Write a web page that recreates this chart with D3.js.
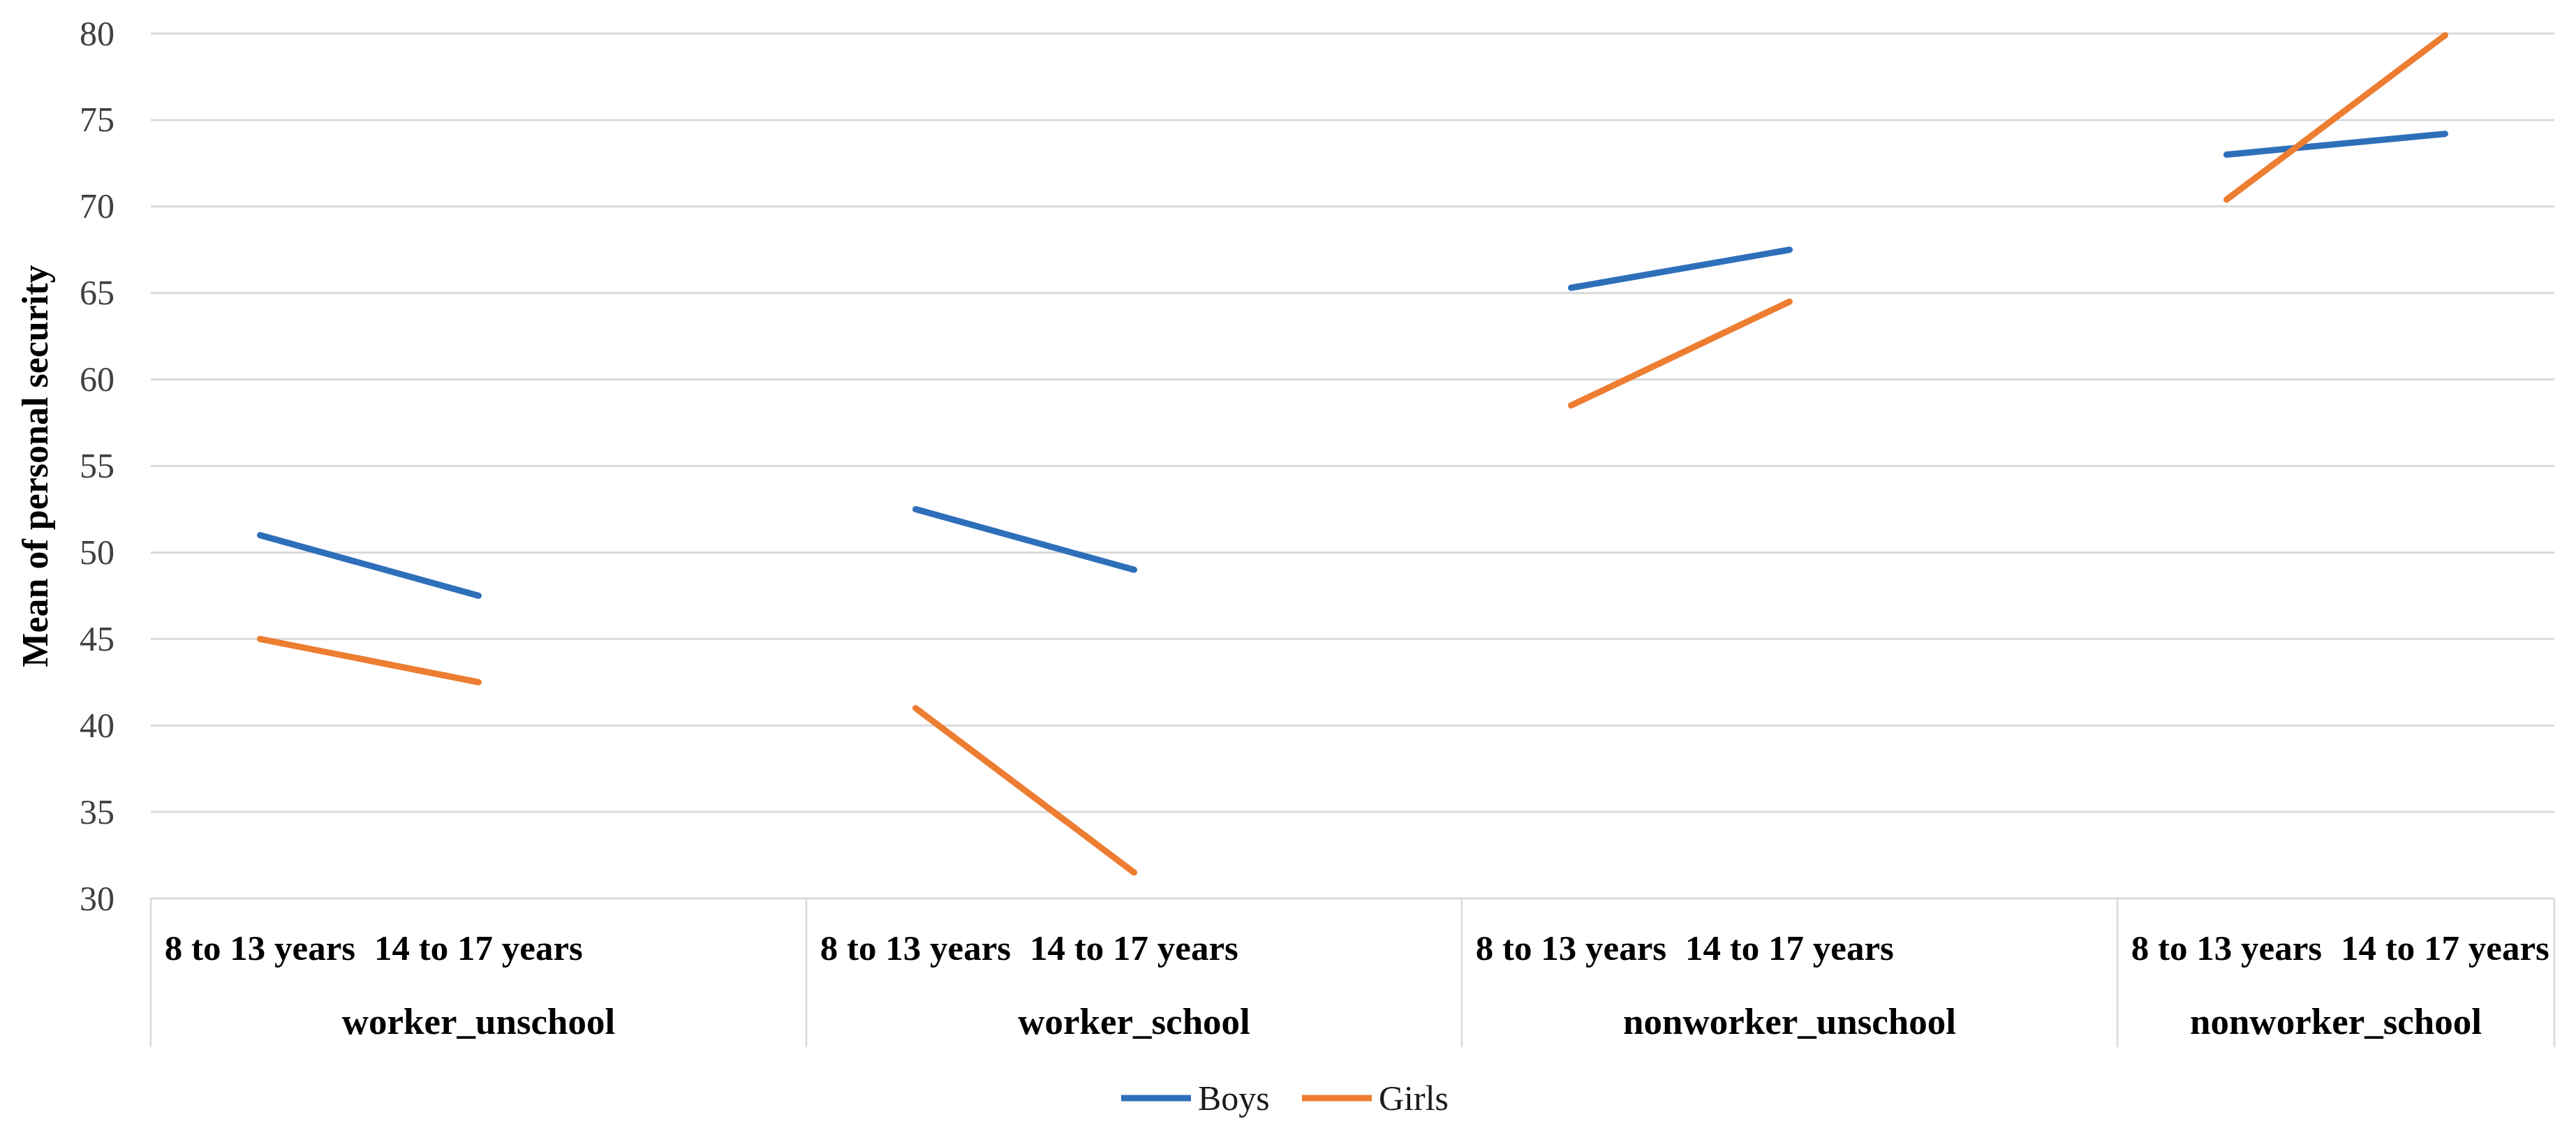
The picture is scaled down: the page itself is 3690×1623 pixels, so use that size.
<!DOCTYPE html>
<html>
<head>
<meta charset="utf-8">
<script src="https://cdn.jsdelivr.net/npm/d3@7"></script>
<style>
  body { margin: 0; background: #fff; }
  text { font-family: 'Liberation Serif', 'Times New Roman', serif; }
</style>
</head>
<body>
<div class="canvas"></div>
<script>
const groups = ['worker_unschool', 'worker_school', 'nonworker_unschool', 'nonworker_school']
const ages = ['8 to 13 years', '14 to 17 years']
const boys = [[51.0, 47.5], [52.5, 49.0], [65.3, 67.5], [73.0, 74.2]]
const girls = [[45.0, 42.5], [41.0, 31.5], [58.5, 64.5], [70.4, 79.9]]
const yTicks = [30, 35, 40, 45, 50, 55, 60, 65, 70, 75, 80]
const seriesNames = ['Boys', 'Girls']
const colors = ['#2e6fba', '#ed7d31']

const W = 3690, H = 1623
const margin = { top: 48, left: 216, right: 31 }
const plotBottom = 1287

const svg = d3.select('.canvas')
  .append('svg')
  .attr('width', W)
  .attr('height', H)

// every group gets a blank slot after its two ages, except the last one
const slots = []
groups.forEach((g, gi) => {
  ages.forEach((a, ai) => slots.push(gi + '|' + ai))
  if (gi < groups.length - 1) slots.push(gi + '|blank')
})

const x = d3.scaleBand()
  .domain(slots)
  .range([margin.left, W - margin.right])
  .padding(0)

const y = d3.scaleLinear()
  .domain([30, 80])
  .range([plotBottom, margin.top])

const xc = (gi, ai) => x(gi + '|' + ai) + x.bandwidth() / 2

// gridlines
svg.append('g')
  .selectAll('line')
  .data(yTicks)
  .enter()
  .append('line')
  .attr('x1', margin.left)
  .attr('x2', W - margin.right)
  .attr('y1', d => y(d))
  .attr('y2', d => y(d))
  .attr('stroke', '#d9d9d9')
  .attr('stroke-width', 3)

// y axis labels
const yAxis = d3.axisLeft(y).tickValues(yTicks).tickSize(0).tickPadding(0)
const yAxisGroup = svg.append('g')
  .attr('transform', `translate(${margin.left - 52}, 0)`)
  .call(yAxis)
yAxisGroup.select('.domain').remove()
yAxisGroup.selectAll('text')
  .attr('font-size', 50)
  .attr('fill', '#404040')
  .attr('font-family', "'Liberation Serif', serif")

svg.append('text')
  .attr('transform', `translate(50, ${(plotBottom + margin.top) / 2}) rotate(-90)`)
  .attr('text-anchor', 'middle')
  .attr('dominant-baseline', 'central')
  .attr('font-size', 52)
  .attr('font-weight', 'bold')
  .text('Mean of personal security')

// category box lines under the plot
const bounds = groups.map((g, gi) => x(gi + '|0'))
bounds.push(W - margin.right)
svg.append('g')
  .selectAll('line')
  .data(bounds)
  .enter()
  .append('line')
  .attr('x1', d => d)
  .attr('x2', d => d)
  .attr('y1', plotBottom)
  .attr('y2', 1500)
  .attr('stroke', '#d9d9d9')
  .attr('stroke-width', 2.5)

// age labels and group labels
groups.forEach((g, gi) => {
  ages.forEach((a, ai) => {
    svg.append('text')
      .attr('x', xc(gi, ai))
      .attr('y', 1375)
      .attr('text-anchor', 'middle')
      .attr('font-size', 51)
      .attr('font-weight', 'bold')
      .text(a)
  })
  svg.append('text')
    .attr('x', (bounds[gi] + bounds[gi + 1]) / 2)
    .attr('y', 1481)
    .attr('text-anchor', 'middle')
    .attr('font-size', 53)
    .attr('font-weight', 'bold')
    .text(g)
})

// lines, one segment per group
const line = d3.line()
  .x(d => d.x)
  .y(d => y(d.v))

;[boys, girls].forEach((series, si) => {
  svg.append('g')
    .selectAll('path')
    .data(series.map((vals, gi) => vals.map((v, ai) => ({ x: xc(gi, ai), v: v }))))
    .enter()
    .append('path')
    .attr('d', line)
    .attr('fill', 'none')
    .attr('stroke', colors[si])
    .attr('stroke-width', 9)
    .attr('stroke-linecap', 'round')
})

// legend
const legend = svg.append('g').attr('transform', 'translate(1606, 1573)')
const legendX = [0, 259]
seriesNames.forEach((name, i) => {
  legend.append('line')
    .attr('x1', legendX[i])
    .attr('x2', legendX[i] + 100)
    .attr('y1', 0)
    .attr('y2', 0)
    .attr('stroke', colors[i])
    .attr('stroke-width', 9)
  legend.append('text')
    .attr('x', legendX[i] + 110)
    .attr('y', 0)
    .attr('dominant-baseline', 'central')
    .attr('font-size', 50)
    .attr('fill', '#1a1a1a')
    .text(name)
})
</script>
</body>
</html>
